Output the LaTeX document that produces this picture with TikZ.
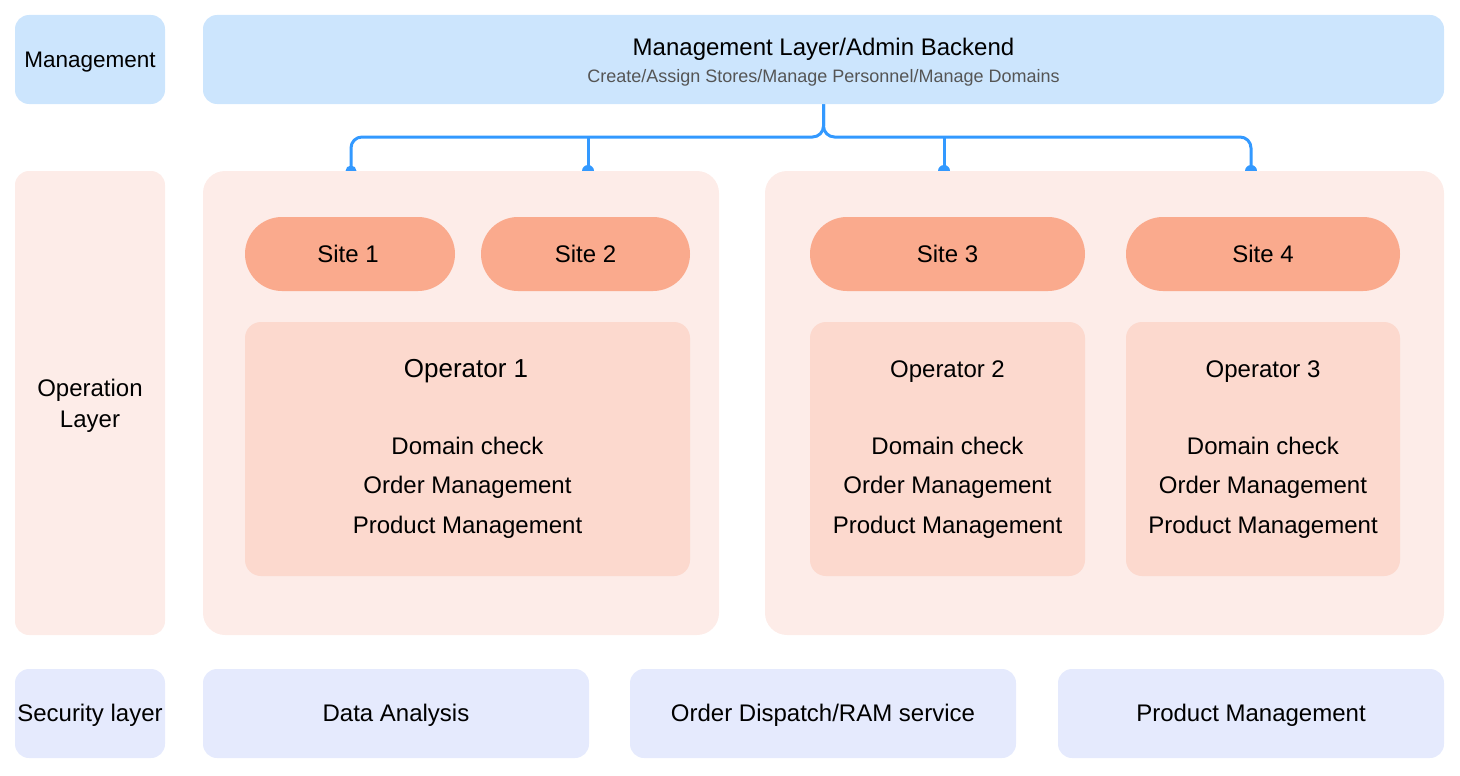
\documentclass[tikz,border=0pt]{standalone}
\usepackage{fontspec}
\setmainfont{Liberation Sans}
\usetikzlibrary{backgrounds}
\definecolor{mgmtblue}{HTML}{CCE5FD}
\definecolor{opbg}{HTML}{FDECE8}
\definecolor{sitec}{HTML}{FAAA8D}
\definecolor{operc}{HTML}{FCD9CE}
\definecolor{secc}{HTML}{E5EAFD}
\definecolor{linec}{HTML}{3399FF}
\definecolor{subgray}{HTML}{555555}
\tikzset{
  box/.style={fill=#1, draw=none, inner sep=0pt, rounded corners=14pt},
  txt/.style={inner sep=0pt, font=\fontsize{24}{28}\selectfont, align=center},
  pill/.style={fill=sitec, draw=none, inner sep=0pt, rounded corners=37pt, minimum height=74pt},
  conn/.style={draw=linec, line width=3pt, rounded corners=11pt},
  dot/.style={fill=linec}
}
\begin{document}
\begin{tikzpicture}[x=1pt,y=-1pt]
\useasboundingbox (0,0) rectangle (1460,776);
% management row
\node[box=mgmtblue, minimum width=150pt, minimum height=89pt] (mgl) at (90,59.5) {};
\node[txt, font=\fontsize{22.5}{26}\selectfont] (mglt) at (90,62) {Management};
\node[box=mgmtblue, minimum width=1241pt, minimum height=89pt] (top) at (823.5,59.5) {};
\node[txt] (toptitle) at (823.5,49) {Management Layer/Admin Backend};
\node[inner sep=0pt, font=\fontsize{18}{21}\selectfont, text=subgray] (topsub) at (823.5,77.5) {Create/Assign Stores/Manage Personnel/Manage Domains};
% operation row
\node[box=opbg, minimum width=150pt, minimum height=464pt] (opl) at (90,403) {};
\node[txt] (oplt) at (90,405.5) {Operation\\[3pt]Layer};
\node[box=opbg, rounded corners=22pt, minimum width=516pt, minimum height=464pt] (c1) at (461,403) {};
\node[box=opbg, rounded corners=22pt, minimum width=679pt, minimum height=464pt] (c2) at (1104.5,403) {};
\node[pill, minimum width=210pt] (s1) at (350,254) {};
\node[pill, minimum width=209pt] (s2) at (585.5,254) {};
\node[pill, minimum width=275pt] (s3) at (947.5,254) {};
\node[pill, minimum width=274pt] (s4) at (1263,254) {};
\node[txt] (s1t) at (348,254) {Site 1};
\node[txt] (s2t) at (585.5,254) {Site 2};
\node[txt] (s3t) at (947.5,254) {Site 3};
\node[txt] (s4t) at (1263,254) {Site 4};
\node[box=operc, rounded corners=16pt, minimum width=445pt, minimum height=254pt] (o1) at (467.5,449) {};
\node[box=operc, rounded corners=16pt, minimum width=275pt, minimum height=254pt] (o2) at (947.5,449) {};
\node[box=operc, rounded corners=16pt, minimum width=274pt, minimum height=254pt] (o3) at (1263,449) {};
\node[txt, font=\fontsize{26}{30}\selectfont] (o1t) at (466,371.5) {Operator 1};
\node[txt] (o1a) at (467.5,445.5) {Domain check};
\node[txt] (o1b) at (467.5,487.5) {Order Management};
\node[txt] (o1c) at (467.5,527.5) {Product Management};
\node[txt] (o2t) at (947.5,371.5) {Operator 2};
\node[txt] (o2a) at (947.5,445.5) {Domain check};
\node[txt] (o2b) at (947.5,487.5) {Order Management};
\node[txt] (o2c) at (947.5,527.5) {Product Management};
\node[txt] (o3t) at (1263,371.5) {Operator 3};
\node[txt] (o3a) at (1263,445.5) {Domain check};
\node[txt] (o3b) at (1263,487.5) {Order Management};
\node[txt] (o3c) at (1263,527.5) {Product Management};
% security row
\node[box=secc, minimum width=150pt, minimum height=89pt] (secl) at (90,713.5) {};
\node[box=secc, minimum width=386pt, minimum height=89pt] (sec1) at (396,713.5) {};
\node[box=secc, minimum width=386pt, minimum height=89pt] (sec2) at (823,713.5) {};
\node[box=secc, minimum width=386pt, minimum height=89pt] (sec3) at (1251,713.5) {};
\node[txt] (seclt) at (90,715.5) {Security layer};
\node[txt] (sec1t) at (396,715.5) {Data Analysis};
\node[txt] (sec2t) at (823,715.5) {Order Dispatch/RAM service};
\node[txt] (sec3t) at (1251,715.5) {Product Management};
% connectors
\coordinate (d1) at (351,171);
\coordinate (d2) at (588,171);
\coordinate (d3) at (944,171);
\coordinate (d4) at (1251,171);
\coordinate (bus) at (823.5,137);
\begin{pgfonlayer}{background}
\draw[conn] (top.south) -- (bus) -- (bus -| d1) -- (d1);
\draw[conn] (top.south) -- (bus) -- (bus -| d4) -- (d4);
\draw[conn, rounded corners=0pt] (bus -| d2) -- (d2);
\draw[conn, rounded corners=0pt] (bus -| d3) -- (d3);
\fill[dot] (d1) circle (5.5);
\fill[dot] (d2) circle (6);
\fill[dot] (d3) circle (6);
\fill[dot] (d4) circle (6);
\end{pgfonlayer}
\end{tikzpicture}
\end{document}
